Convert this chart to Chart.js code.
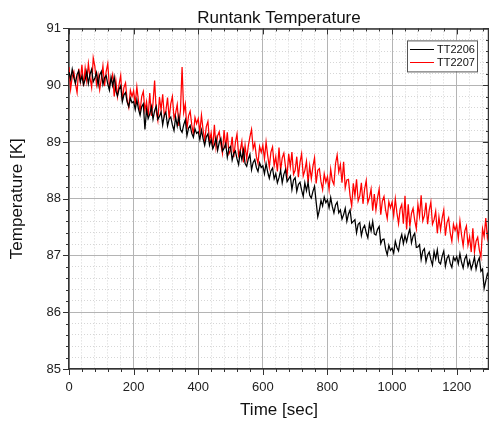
<!DOCTYPE html>
<html>
<head>
<meta charset="utf-8">
<title>Runtank Temperature</title>
<script src="https://cdn.jsdelivr.net/npm/chart.js@4.4.1/dist/chart.umd.min.js"></script>
<style>
  html, body { margin: 0; padding: 0; background: #fff; }
  #wrap { width: 489px; height: 422px; }
</style>
</head>
<body>
<div id="wrap"><canvas id="tempChart" width="489" height="422"></canvas></div>
<script>
const sampleStep = 5;
const seriesNames = ['TT2206', 'TT2207'];
const xTickLabels = [0, 200, 400, 600, 800, 1000, 1200];
const yTickLabels = [85, 86, 87, 88, 89, 90, 91];

// TT2206 [K], t = 0 .. 1300 sec
const tt2206 = [
  90.23, 90.10, 90.28, 90.13, 90.03, 90.19, 90.25, 90.06, 90.16, 90.01,
  90.10, 90.24, 90.03, 90.19, 90.28, 90.06, 90.12, 90.22, 90.00, 90.18,
  90.24, 90.01, 90.13, 90.17, 90.02, 89.91, 90.14, 89.99, 90.14, 89.90,
  89.81, 89.93, 89.99, 89.71, 89.83, 89.87, 89.70, 89.62, 89.77, 89.69,
  89.71, 89.57, 89.74, 89.58, 89.47, 89.62, 89.67, 89.22, 89.57, 89.41,
  89.49, 89.62, 89.40, 89.55, 89.63, 89.40, 89.45, 89.53, 89.30, 89.47,
  89.52, 89.28, 89.40, 89.44, 89.30, 89.20, 89.44, 89.28, 89.45, 89.22,
  89.17, 89.30, 89.39, 89.11, 89.24, 89.29, 89.15, 89.08, 89.23, 89.15,
  89.18, 89.04, 89.21, 89.06, 88.94, 89.09, 89.14, 88.94, 89.04, 88.88,
  88.95, 89.07, 88.85, 88.99, 89.06, 88.84, 88.89, 88.97, 88.73, 88.89,
  88.92, 88.68, 88.80, 88.84, 88.70, 88.60, 88.83, 88.69, 88.86, 88.62,
  88.57, 88.70, 88.78, 88.51, 88.64, 88.69, 88.55, 88.48, 88.63, 88.55,
  88.58, 88.44, 88.62, 88.47, 88.36, 88.49, 88.54, 88.35, 88.44, 88.28,
  88.37, 88.50, 88.28, 88.43, 88.51, 88.30, 88.35, 88.40, 88.16, 88.33,
  88.37, 88.13, 88.25, 88.29, 88.15, 88.04, 88.28, 88.14, 88.29, 88.06,
  88.01, 88.13, 88.22, 87.94, 87.68, 87.80, 87.97, 87.87, 88.03, 87.93,
  87.98, 87.84, 88.02, 87.86, 87.75, 87.89, 87.94, 87.75, 87.80, 87.64,
  87.72, 87.83, 87.60, 87.73, 87.80, 87.57, 87.60, 87.63, 87.40, 87.55,
  87.58, 87.35, 87.48, 87.53, 87.40, 87.31, 87.56, 87.43, 87.60, 87.38,
  87.36, 87.46, 87.51, 87.21, 87.28, 87.29, 87.11, 87.01, 87.18, 87.09,
  87.13, 87.04, 87.25, 87.14, 87.08, 87.27, 87.37, 87.21, 87.35, 87.24,
  87.37, 87.47, 87.22, 87.34, 87.39, 87.14, 87.15, 87.19, 86.93, 87.08,
  87.12, 86.89, 87.01, 87.06, 86.93, 86.83, 87.07, 86.94, 87.10, 86.88,
  86.85, 86.99, 87.08, 86.81, 86.95, 87.00, 86.86, 86.79, 86.97, 86.91,
  86.98, 86.85, 87.03, 86.88, 86.78, 86.94, 87.00, 86.81, 86.91, 86.76,
  86.85, 86.97, 86.76, 86.89, 86.96, 86.72, 86.76, 86.42, 86.55, 86.68,
  86.62
];

// TT2207 [K], t = 0 .. 1300 sec
const tt2207 = [
  90.32, 89.93, 90.15, 90.24, 90.02, 89.87, 90.29, 90.07, 90.36, 89.98,
  90.30, 90.07, 90.38, 90.13, 89.96, 90.48, 90.33, 90.01, 90.18, 89.92,
  90.11, 90.34, 89.98, 90.24, 90.38, 89.98, 90.08, 90.19, 89.80, 90.08,
  89.80, 90.01, 90.17, 89.73, 89.96, 90.04, 89.73, 89.61, 89.91, 89.80,
  89.90, 89.67, 89.97, 89.72, 89.54, 89.80, 89.89, 89.55, 89.71, 89.44,
  89.86, 89.46, 89.68, 90.08, 89.54, 89.38, 89.79, 89.56, 89.84, 89.46,
  89.55, 89.78, 89.41, 89.67, 89.80, 89.42, 89.51, 89.66, 89.28, 89.56,
  90.32, 89.52, 89.67, 89.22, 89.46, 89.54, 89.30, 89.14, 89.43, 89.32,
  89.41, 89.17, 89.47, 89.21, 89.02, 89.27, 89.36, 89.01, 89.16, 88.89,
  89.30, 88.90, 89.11, 89.18, 88.96, 88.80, 89.21, 88.89, 89.17, 88.79,
  88.85, 89.09, 88.73, 88.99, 89.14, 88.76, 88.85, 89.01, 88.64, 88.94,
  88.70, 88.93, 89.09, 89.22, 88.88, 88.98, 88.74, 88.62, 88.92, 88.82,
  88.94, 88.70, 89.00, 88.76, 88.56, 88.82, 88.91, 88.58, 88.74, 88.48,
  88.90, 88.50, 88.72, 88.80, 88.57, 88.41, 88.79, 88.56, 88.82, 88.43,
  88.50, 88.74, 88.38, 88.64, 88.79, 88.40, 88.50, 88.66, 88.28, 88.58,
  88.35, 88.57, 88.72, 88.27, 88.50, 88.53, 88.30, 88.16, 88.44, 88.29,
  88.39, 88.16, 88.52, 88.32, 88.25, 88.62, 88.77, 88.47, 88.60, 88.28,
  88.65, 88.19, 88.33, 88.34, 88.05, 87.87, 88.27, 88.05, 88.34, 87.96,
  88.05, 88.28, 87.91, 88.17, 88.32, 87.93, 88.02, 88.17, 87.79, 88.08,
  87.80, 88.02, 88.17, 87.72, 87.96, 88.04, 87.80, 87.65, 87.95, 87.84,
  87.94, 87.70, 88.00, 87.75, 87.56, 87.82, 87.90, 87.56, 88.05, 87.46,
  87.90, 87.51, 87.74, 87.83, 87.62, 87.47, 87.90, 87.69, 88.06, 87.61,
  87.70, 87.93, 87.55, 87.80, 87.94, 87.55, 87.63, 87.78, 87.39, 87.68,
  87.45, 87.66, 87.80, 87.35, 87.58, 87.66, 87.40, 87.25, 87.55, 87.44,
  87.54, 87.30, 87.61, 87.36, 87.17, 87.43, 87.52, 87.18, 87.33, 87.06,
  87.48, 87.06, 87.25, 87.32, 87.10, 86.97, 87.47, 87.33, 87.66, 87.31,
  87.50
];

const FONT = "'Liberation Sans', Arial, sans-serif";
const xMin = 0, xMax = 1300, yMin = 85, yMax = 91;

function toPoints(values) {
    return values.map((v, i) => ({ x: i * sampleStep, y: v }));
}

/**
 * Ticks on all four sides of the frame (outside on left/bottom, inside on top/right)
 */
const frameTicks = {
    id: 'frameTicks',
    afterDraw(chart) {
        const { ctx, chartArea: a, scales } = chart;
        ctx.save();
        ctx.strokeStyle = '#333';
        ctx.lineWidth = 1;
        ctx.beginPath();
        scales.xMinor.ticks.forEach(t => {
            const px = Math.round(scales.x.getPixelForValue(t.value)) + 0.5;
            const len = xTickLabels.includes(t.value) ? 6 : 3;
            ctx.moveTo(px, a.bottom); ctx.lineTo(px, a.bottom + len);
            ctx.moveTo(px, a.top); ctx.lineTo(px, a.top + len);
        });
        scales.yMinor.ticks.forEach(t => {
            const py = Math.round(scales.y.getPixelForValue(t.value)) + 0.5;
            const major = yTickLabels.some(v => Math.abs(v - t.value) < 1e-6);
            const len = major ? 6 : 3;
            ctx.moveTo(a.left, py); ctx.lineTo(a.left - len, py);
            ctx.moveTo(a.right, py); ctx.lineTo(a.right - len, py);
        });
        ctx.stroke();
        // top and right frame lines
        ctx.lineWidth = 1.5;
        ctx.beginPath();
        ctx.moveTo(a.left, a.top + 0.5); ctx.lineTo(a.right, a.top + 0.5);
        ctx.moveTo(a.right - 0.5, a.top); ctx.lineTo(a.right - 0.5, a.bottom);
        ctx.stroke();
        ctx.restore();
    }
};

/**
 * Legend box inside the plot, top right corner
 */
const innerLegend = {
    id: 'innerLegend',
    afterDraw(chart) {
        const { ctx, chartArea: a } = chart;
        const sets = chart.data.datasets;
        const boxW = 70, rowH = 12.5;
        const boxH = sets.length * rowH + 6;
        const x0 = a.right - 12 - boxW, y0 = a.top + 12;
        ctx.save();
        ctx.fillStyle = '#fff';
        ctx.fillRect(x0, y0, boxW, boxH);
        ctx.strokeStyle = '#555';
        ctx.lineWidth = 1;
        ctx.strokeRect(x0 + 0.5, y0 + 0.5, boxW, boxH);
        ctx.font = '11px ' + FONT;
        ctx.textBaseline = 'middle';
        sets.forEach((ds, i) => {
            const y = Math.round(y0 + 9 + i * rowH) + 0.5;
            ctx.strokeStyle = ds.borderColor;
            ctx.beginPath();
            ctx.moveTo(x0 + 3, y); ctx.lineTo(x0 + 27, y);
            ctx.stroke();
            ctx.fillStyle = '#111';
            ctx.fillText(ds.label, x0 + 30, y);
        });
        ctx.restore();
    }
};

const ctx = document.getElementById('tempChart').getContext('2d');

const tempChart = new Chart(ctx, {
    type: 'line',
    data: {
        datasets: [
            {
                label: seriesNames[0],
                data: toPoints(tt2206),
                borderColor: '#000000',
                borderWidth: 1.25,
                pointRadius: 0,
                tension: 0
            },
            {
                label: seriesNames[1],
                data: toPoints(tt2207),
                borderColor: '#ff0000',
                borderWidth: 1.25,
                pointRadius: 0,
                tension: 0
            }
        ]
    },
    options: {
        responsive: false,
        animation: false,
        layout: { padding: 0 },
        scales: {
            xMinor: {
                type: 'linear', position: 'bottom', min: xMin, max: xMax, z: -1,
                ticks: { display: false, stepSize: 40, includeBounds: false },
                grid: { color: '#d6d6d6', drawTicks: false },
                border: { display: false, dash: [1, 2] },
                afterFit: s => { s.height = 0; }
            },
            yMinor: {
                type: 'linear', position: 'left', min: yMin, max: yMax, z: -1,
                ticks: { display: false, stepSize: 0.2, includeBounds: false },
                grid: { color: '#d6d6d6', drawTicks: false },
                border: { display: false, dash: [1, 2] },
                afterFit: s => { s.width = 0; }
            },
            x: {
                type: 'linear', position: 'bottom', min: xMin, max: xMax,
                ticks: {
                    stepSize: 200, includeBounds: false, maxRotation: 0,
                    padding: 11, color: '#222', font: { family: FONT, size: 13 },
                    callback: v => String(v)
                },
                grid: { color: '#b4b4b4', drawTicks: false },
                border: { color: '#333', width: 1.5 },
                title: {
                    display: true, text: 'Time [sec]', color: '#111',
                    font: { family: FONT, size: 17 }, padding: { top: 0, bottom: 1 }
                },
                afterFit: s => { s.height = 53; }
            },
            y: {
                type: 'linear', position: 'left', min: yMin, max: yMax,
                ticks: {
                    stepSize: 1, padding: 8, color: '#222', font: { family: FONT, size: 13 },
                    callback: v => String(v)
                },
                grid: { color: '#b4b4b4', drawTicks: false },
                border: { color: '#333', width: 1.5 },
                title: {
                    display: true, text: 'Temperature [K]', color: '#111',
                    font: { family: FONT, size: 17 }, padding: { top: 7, bottom: 0 }
                },
                afterFit: s => { s.width = 69; }
            }
        },
        plugins: {
            legend: { display: false },
            tooltip: { enabled: false },
            title: {
                display: true, text: 'Runtank Temperature', color: '#111', fullSize: false,
                font: { family: FONT, size: 17, weight: 'normal' },
                padding: { top: 8, bottom: 0 }
            }
        }
    },
    plugins: [frameTicks, innerLegend]
});
</script>
</body>
</html>
